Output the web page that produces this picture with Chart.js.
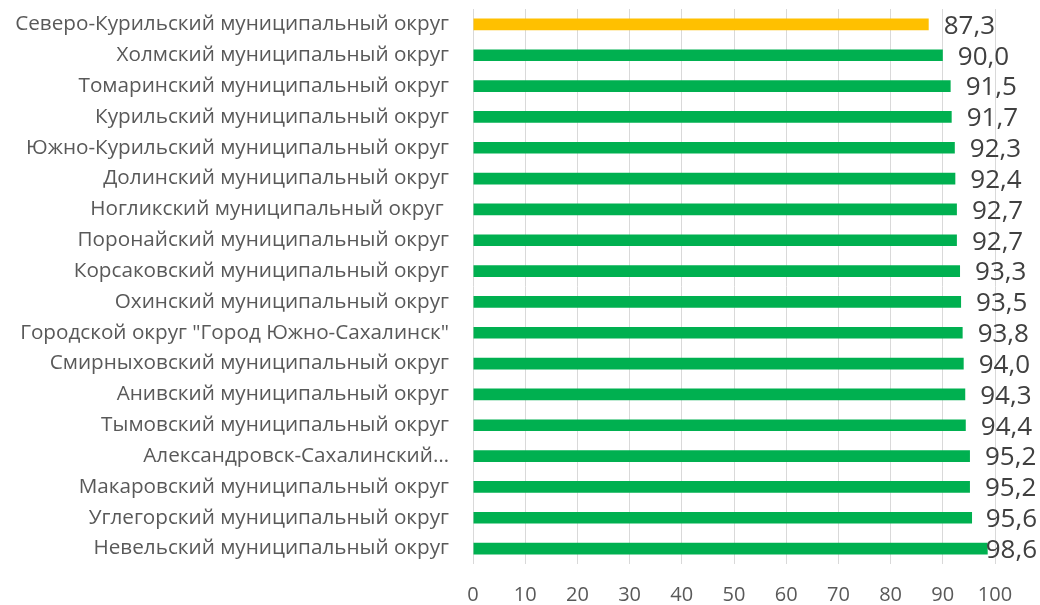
<!DOCTYPE html>
<html>
<head>
<meta charset="utf-8">
<script src="https://cdn.jsdelivr.net/npm/chart.js@4/dist/chart.umd.min.js"></script>
<style>
  html, body { margin: 0; padding: 0; background: #fff; }
  #wrap { width: 1040px; height: 605px; }
</style>
</head>
<body>
<div id="wrap"><canvas id="bar_chart_canvas" width="1040" height="605"></canvas></div>
<script>
/*--------------------------------------------------------------------------------
----- DISTRICTS BARCHART (one horizontal bar per district)
--------------------------------------------------------------------------------*/

// Categories, top to bottom
const districts = [
    'Северо-Курильский муниципальный округ',
    'Холмский муниципальный округ',
    'Томаринский муниципальный округ',
    'Курильский муниципальный округ',
    'Южно-Курильский муниципальный округ',
    'Долинский муниципальный округ',
    'Ногликский муниципальный округ ',
    'Поронайский муниципальный округ',
    'Корсаковский муниципальный округ',
    'Охинский муниципальный округ',
    'Городской округ "Город Южно-Сахалинск"',
    'Смирныховский муниципальный округ',
    'Анивский муниципальный округ',
    'Тымовский муниципальный округ',
    'Александровск-Сахалинский…',
    'Макаровский муниципальный округ',
    'Углегорский муниципальный округ',
    'Невельский муниципальный округ'
];

// Values per district
const values = [87.3, 90.0, 91.5, 91.7, 92.3, 92.4, 92.7, 92.7, 93.3, 93.5, 93.8, 94.0, 94.3, 94.4, 95.2, 95.2, 95.6, 98.6];

// Highlighted district (lowest value) gets its own colour
const highlighted = ['Северо-Курильский муниципальный округ'];

// Axis ticks
const x_ticks = [0, 10, 20, 30, 40, 50, 60, 70, 80, 90, 100];

const FONT = "'Open Sans', 'DejaVu Sans', sans-serif";

// Draw the value label at the end of each bar, kept inside the canvas
const value_labels = {
    id: 'value_labels',
    afterDatasetsDraw(chart) {
        const ctx = chart.ctx;
        const meta = chart.getDatasetMeta(0);
        ctx.save();
        ctx.font = '26px ' + FONT;
        ctx.fillStyle = '#404040';
        ctx.textBaseline = 'middle';
        meta.data.forEach(function (bar, i) {
            const text = values[i].toFixed(1).replace('.', ',');
            const w = ctx.measureText(text).width;
            const x = Math.min(bar.x + 15, chart.width - 3 - w);
            ctx.fillText(text, x, bar.y + 2);
        });
        ctx.restore();
    }
};

let context = document.getElementById('bar_chart_canvas').getContext('2d');

let bar_chart = new Chart(context, {
    type: 'bar',
    data: {
        labels: districts,
        datasets: [{
            data: values,
            backgroundColor: districts.map(d => highlighted.includes(d) ? '#FFC000' : '#00B050'),
            borderWidth: 0,
            categoryPercentage: 1.0,
            barPercentage: 0.38
        }]
    },
    options: {
        indexAxis: 'y',
        responsive: false,
        animation: false,
        layout: { padding: { top: 9, right: 45, left: 0, bottom: 0 } },
        plugins: {
            legend: { display: false },
            tooltip: { enabled: false }
        },
        scales: {
            x: {
                min: 0,
                max: 100,
                afterBuildTicks(scale) {
                    scale.ticks = x_ticks.map(v => ({ value: v }));
                },
                afterFit(scale) { scale.height = 41; },
                grid: { color: '#d9d9d9', drawTicks: false },
                border: { display: false },
                ticks: {
                    padding: 19,
                    color: '#595959',
                    font: { family: FONT, size: 20 }
                }
            },
            y: {
                afterFit(scale) {
                    scale.width = 473;
                    scale.paddingTop = 0;
                    scale.paddingBottom = 0;
                },
                grid: { display: false, drawTicks: false },
                border: { display: false },
                ticks: {
                    padding: 24,
                    autoSkip: false,
                    color: '#595959',
                    font: { family: FONT, size: 20.7 }
                }
            }
        }
    },
    plugins: [value_labels]
});
</script>
</body>
</html>
